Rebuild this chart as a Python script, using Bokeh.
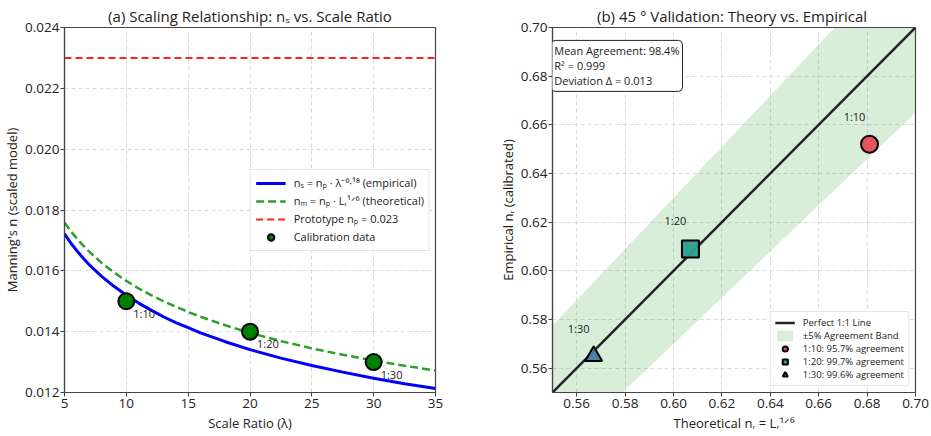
from bokeh.plotting import figure
from bokeh.layouts import row
from bokeh.models import Legend, LegendItem, Label, NumeralTickFormatter, FixedTicker, Range1d
from bokeh.core.properties import value
from bokeh.embed import file_html
from bokeh.resources import INLINE

# ---------------- data ----------------
lam = [5, 5.5, 6, 6.5, 7, 8, 9, 10, 11, 12, 13, 14, 15, 16, 18, 20, 22.5, 25, 27.5, 30, 32.5, 35]
n_empirical = [0.01722, 0.01692, 0.01666, 0.01642, 0.01620, 0.01582, 0.01549, 0.01520,
               0.01494, 0.01471, 0.01449, 0.01430, 0.01413, 0.01396,
               0.01367, 0.01341, 0.01313, 0.01289, 0.01267, 0.01247, 0.01229, 0.01213]
n_theoretical = [0.01759, 0.01731, 0.01706, 0.01684, 0.01663, 0.01626, 0.01595, 0.01567,
                 0.01542, 0.01520, 0.01500, 0.01482, 0.01465, 0.01449,
                 0.01421, 0.01396, 0.01369, 0.01345, 0.01324, 0.01305, 0.01288, 0.01272]
n_prototype = 0.023
cal_lam = [10, 20, 30]
cal_n = [0.015, 0.014, 0.013]
cal_labels = ["1:10", "1:20", "1:30"]
left_xticks = [5, 10, 15, 20, 25, 30, 35]
left_yticks = [0.012, 0.014, 0.016, 0.018, 0.020, 0.022, 0.024]

val_labels = ["1:10", "1:20", "1:30"]
val_theory = [0.681, 0.607, 0.567]
val_empirical = [0.652, 0.609, 0.565]
val_agreement = ["95.7%", "99.7%", "99.6%"]
val_colors = ["#e84a57", "#2a9d8f", "#457b9d"]
val_markers = ["circle", "square", "triangle"]
line_11 = [0.55, 0.70]
band_lower = [0.5225, 0.665]
band_upper = [0.5775, 0.735]
right_ticks = [0.56, 0.58, 0.60, 0.62, 0.64, 0.66, 0.68, 0.70]
stats_text = "Mean Agreement: 98.4%\nR\u00b2 = 0.999\nDeviation \u0394 = 0.013"

FONT = "Open Sans"
TXT = "#222222"


def style(p, xticks, yticks, xfmt, yfmt):
    p.title.text_font = FONT
    p.title.text_font_size = "15px"
    p.title.text_font_style = "normal"
    p.title.text_color = TXT
    p.title.align = "center"
    p.title.standoff = 4
    p.outline_line_color = "#444444"
    p.outline_line_width = 1.2
    p.xaxis.ticker = FixedTicker(ticks=xticks)
    p.yaxis.ticker = FixedTicker(ticks=yticks)
    p.xaxis.formatter = NumeralTickFormatter(format=xfmt)
    p.yaxis.formatter = NumeralTickFormatter(format=yfmt)
    for ax in (p.xaxis, p.yaxis):
        ax.axis_line_color = "#444444"
        ax.axis_line_width = 1.2
        ax.major_tick_line_color = "#444444"
        ax.major_tick_out = 4
        ax.major_tick_in = 0
        ax.minor_tick_line_color = None
        ax.major_label_text_font = FONT
        ax.major_label_text_font_size = "13.5px"
        ax.major_label_text_color = TXT
        ax.major_label_standoff = 2
        ax.axis_label_text_font = FONT
        ax.axis_label_text_font_size = "13px"
        ax.axis_label_text_font_style = "normal"
        ax.axis_label_text_color = TXT
        ax.axis_label_standoff = 3
    p.yaxis.major_label_standoff = 1
    p.yaxis.axis_label_standoff = 1
    p.grid.grid_line_color = "#d0d0d0"
    p.grid.grid_line_dash = "4 3"
    p.grid.grid_line_width = 0.8


# ---------------- left panel ----------------
p1 = figure(width=465, height=436, output_backend="svg", toolbar_location=None,
            x_range=Range1d(5, 35), y_range=Range1d(0.012, 0.024),
            min_border_left=63, min_border_right=30, min_border_top=27, min_border_bottom=44,
            title="(a) Scaling Relationship: n\u209b vs. Scale Ratio")
style(p1, left_xticks, left_yticks, "0", "0.000")
p1.xaxis.axis_label = "Scale Ratio (\u03bb)"
p1.yaxis.axis_label = "Manning's n (scaled model)"

r_emp = p1.line(lam, n_empirical, line_color="#0000ff", line_width=3)
r_th = p1.line(lam, n_theoretical, line_color="#2ca02c", line_width=2.5, line_dash="8 4")
r_pr = p1.line([left_xticks[0], left_xticks[-1]], [n_prototype, n_prototype],
               line_color="#ff2020", line_width=2, line_dash="7 4")
r_cal = p1.scatter(cal_lam, cal_n, size=16, fill_color="#008000", line_color="black", line_width=2)
p1.text(cal_lam, cal_n, text=cal_labels, x_offset=7, y_offset=12, text_font=value(FONT),
        text_font_size="11px", text_color=TXT, text_align="left", text_baseline="middle")

leg1 = Legend(items=[
    LegendItem(label="n\u209b = n\u209a \u00b7 \u03bb\u207b\u2070\u00b7\u00b9\u2078 (empirical)", renderers=[r_emp]),
    LegendItem(label="n\u2098 = n\u209a \u00b7 L\u1d63\u00b9\u141f\u2076 (theoretical)", renderers=[r_th]),
    LegendItem(label="Prototype n\u209a = 0.023", renderers=[r_pr]),
    LegendItem(label="Calibration data", renderers=[r_cal]),
], location="right")
leg1.margin = 5
leg1.label_text_font = FONT
leg1.label_text_font_size = "11px"
leg1.label_text_color = TXT
leg1.border_line_color = "#cccccc"
leg1.background_fill_alpha = 0.9
leg1.glyph_width = 30
leg1.glyph_height = 16
leg1.spacing = 2
leg1.padding = 5
leg1.label_standoff = 8
p1.add_layout(leg1)

# ---------------- right panel ----------------
p2 = figure(width=466, height=436, output_backend="svg", toolbar_location=None,
            x_range=Range1d(0.55, 0.70), y_range=Range1d(0.55, 0.70),
            min_border_left=87, min_border_right=16, min_border_top=27, min_border_bottom=44,
            title="(b) 45 \u00b0  Validation: Theory vs. Empirical")
style(p2, right_ticks, right_ticks, "0.00", "0.00")
p2.xaxis.axis_label = "Theoretical n\u1d63 = L\u1d63\u00b9\u141f\u2076"
p2.yaxis.axis_label = "Empirical n\u1d63 (calibrated)"

r_band = p2.varea(x=line_11, y1=band_lower, y2=band_upper, fill_color="#2ca02c", fill_alpha=0.18)
r_line = p2.line(line_11, line_11, line_color="#222222", line_width=2.5)
items2 = [LegendItem(label="Perfect 1:1 Line", renderers=[r_line]),
          LegendItem(label="\u00b15% Agreement Band", renderers=[r_band])]
for i in range(3):
    r = p2.scatter([val_theory[i]], [val_empirical[i]], marker=val_markers[i], size=17,
                   fill_color=val_colors[i], line_color="black", line_width=2, fill_alpha=0.95)
    items2.append(LegendItem(label=f"{val_labels[i]}: {val_agreement[i]} agreement", renderers=[r]))
p2.text(val_theory, val_empirical, text=val_labels, x_offset=-15, y_offset=-28, text_font=value(FONT),
        text_font_size="11px", text_color=TXT, text_align="center", text_baseline="middle")

leg2 = Legend(items=items2, location="bottom_right")
leg2.margin = 6
leg2.label_text_font = FONT
leg2.label_text_font_size = "9.5px"
leg2.label_text_color = TXT
leg2.border_line_color = "#cccccc"
leg2.background_fill_alpha = 0.9
leg2.glyph_width = 20
leg2.glyph_height = 13
leg2.spacing = 0
leg2.padding = 4
leg2.label_standoff = 8
p2.add_layout(leg2)

stats = Label(x=0.5495, y=0.6947, text=stats_text, text_font=FONT, text_font_size="11px",
              text_color=TXT, text_align="left", text_baseline="top", text_line_height=1.0,
              background_fill_color="white", border_line_color="#222222", border_line_width=1,
              padding=3, border_radius=4)
p2.add_layout(stats)

layout = row(p1, p2)
open("out.html", "w").write(file_html(layout, INLINE))
